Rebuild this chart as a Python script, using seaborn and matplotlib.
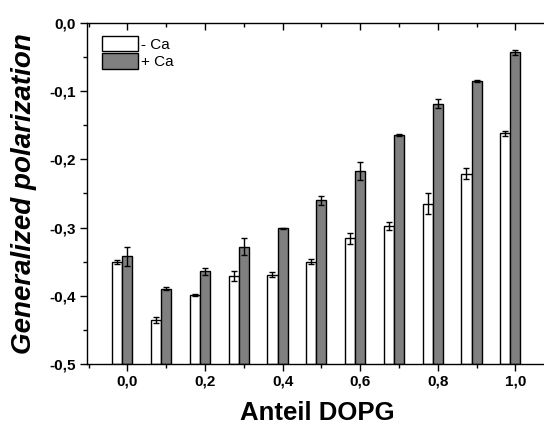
import numpy as np
import pandas as pd
import matplotlib
matplotlib.use("Agg")
import matplotlib.pyplot as plt
import seaborn as sns
from matplotlib.ticker import MultipleLocator, FuncFormatter
from matplotlib.patches import Patch

# data
anteil = [0.0, 0.1, 0.2, 0.3, 0.4, 0.5, 0.6, 0.7, 0.8, 0.9, 1.0]
minus_ca = [-0.350, -0.436, -0.399, -0.371, -0.369, -0.350, -0.316, -0.298, -0.265, -0.221, -0.162]
minus_err = [0.003, 0.004, 0.002, 0.007, 0.003, 0.004, 0.008, 0.006, 0.015, 0.008, 0.004]
plus_ca = [-0.342, -0.390, -0.364, -0.328, -0.301, -0.260, -0.217, -0.164, -0.118, -0.085, -0.043]
plus_err = [0.014, 0.002, 0.005, 0.012, 0.001, 0.007, 0.013, 0.001, 0.007, 0.002, 0.004]
labels = ["- Ca", "+ Ca"]
colors = {"- Ca": "white", "+ Ca": "#808080"}

df = pd.DataFrame({
    "x": anteil * 2,
    "gp": minus_ca + plus_ca,
    "cond": [labels[0]] * len(anteil) + [labels[1]] * len(anteil),
})

sns.set_style("ticks")
plt.rcParams["font.family"] = ["Liberation Sans", "DejaVu Sans"]
plt.rcParams["text.color"] = "black"
plt.rcParams["axes.labelcolor"] = "black"
plt.rcParams["xtick.color"] = "black"
plt.rcParams["ytick.color"] = "black"

fig = plt.figure(figsize=(5.44, 4.28), dpi=100)
ax = fig.add_axes([0.160, 0.150, 0.848, 0.796])

baseline = -0.5
sns.barplot(data=df, x="x", y="gp", hue="cond", native_scale=True,
            palette=colors, hue_order=labels, edgecolor="black", linewidth=1.0,
            width=0.52, errorbar=None, ax=ax, legend=False, saturation=1)

bars = [p for p in ax.patches]
errs = minus_err + plus_err
xs, tops = [], []
for p in bars:
    w = p.get_width()
    top = p.get_y() + p.get_height()
    p.set_x(p.get_x() - w / 2)
    p.set_y(baseline)
    p.set_height(top - baseline)
    xs.append(p.get_x() + w / 2)
    tops.append(top)
ax.errorbar(xs, tops, yerr=errs, fmt="none", ecolor="black", elinewidth=1.0,
            capsize=2.5, capthick=1.0, zorder=5)

ax.set_xlim(-0.104, 1.085)
ax.set_ylim(-0.5, 0.0)

fmt = FuncFormatter(lambda v, pos: f"{v:.1f}".replace(".", ",").replace("-0,0", "0,0"))
ax.xaxis.set_major_locator(MultipleLocator(0.2))
ax.xaxis.set_minor_locator(MultipleLocator(0.1))
ax.yaxis.set_major_locator(MultipleLocator(0.1))
ax.yaxis.set_minor_locator(MultipleLocator(0.05))
ax.xaxis.set_major_formatter(fmt)
ax.yaxis.set_major_formatter(fmt)

ax.tick_params(axis="both", which="major", direction="out", length=5, width=1,
               labelsize=11, color="black", labelcolor="black", pad=3)
ax.tick_params(axis="both", which="minor", direction="out", length=3, width=1, color="black")
ax.tick_params(axis="x", which="both", top=True, labeltop=False)
for lab in ax.get_xticklabels() + ax.get_yticklabels():
    lab.set_fontweight("bold")

for s in ["left", "bottom", "top", "right"]:
    ax.spines[s].set_visible(True)
    ax.spines[s].set_linewidth(1.0)
    ax.spines[s].set_color("black")
ax.spines["right"].set_visible(False)

# top ticks pointing inward
for t in ax.xaxis.get_major_ticks() + ax.xaxis.get_minor_ticks():
    t.tick2line.set_marker(3)

ax.set_xlabel("Anteil DOPG", fontsize=18.5, fontweight="bold", labelpad=9, color="black")
ax.set_ylabel("Generalized polarization", fontsize=20, fontweight="bold",
              fontstyle="italic", labelpad=9, color="black")

handles = [Patch(facecolor=colors[l], edgecolor="black", linewidth=1.0) for l in labels]
ax.legend(handles, labels, loc="upper left", bbox_to_anchor=(0.012, 0.99),
          frameon=False, fontsize=11, handlelength=2.4, handleheight=1.2,
          labelspacing=0.1, handletextpad=0.2, borderaxespad=0.2,
          labelcolor="black")

fig.savefig("out.png", dpi=100)
